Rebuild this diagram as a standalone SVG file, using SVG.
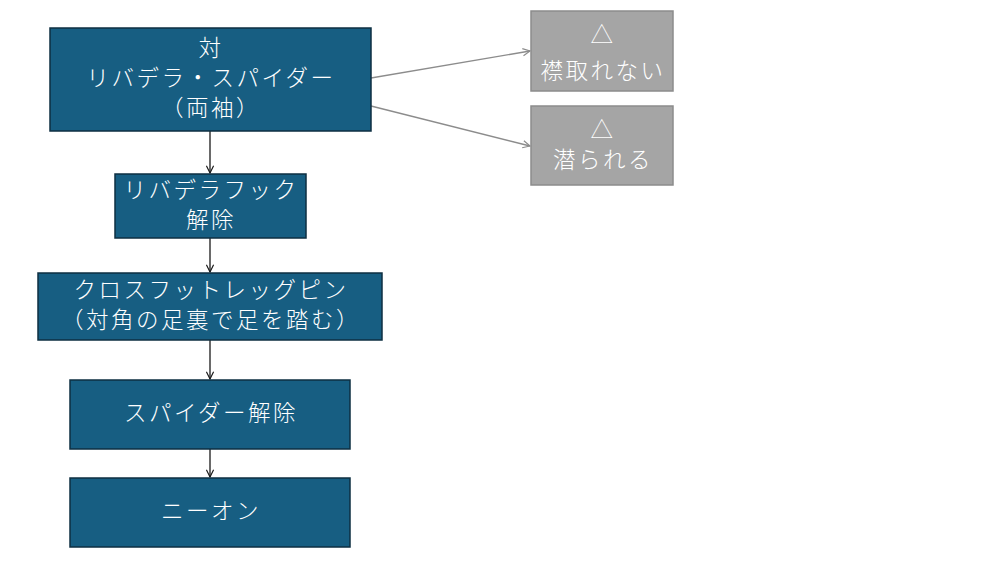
<svg xmlns="http://www.w3.org/2000/svg" width="1000" height="563" viewBox="0 0 1000 563">
<style>
.n{fill:#175E82;stroke:#0E2F42;stroke-width:1.5}
.g{fill:#A5A5A5;stroke:#8C8C8C;stroke-width:1.5}
text{font-family:"Noto Sans CJK JP","Noto Sans",sans-serif;font-weight:300;font-size:22.5px;fill:#FFFFFF;text-anchor:middle;dominant-baseline:central;letter-spacing:2.5px}
.c{stroke:#1A1A1A;stroke-width:1.3;fill:none}
.cg{stroke:#8C8C8C;stroke-width:1.3;fill:none}
</style>
<defs>
<marker id="a" viewBox="0 0 10 10" refX="9" refY="5" markerWidth="9" markerHeight="9" markerUnits="userSpaceOnUse" orient="auto"><path d="M1,1 L9,5 L1,9" fill="none" stroke="#1A1A1A" stroke-width="1.3"/></marker>
<marker id="ag" viewBox="0 0 10 10" refX="9" refY="5" markerWidth="9" markerHeight="9" markerUnits="userSpaceOnUse" orient="auto"><path d="M1,1 L9,5 L1,9" fill="none" stroke="#8C8C8C" stroke-width="1.3"/></marker>
</defs>
<rect width="1000" height="563" fill="#FFFFFF"/>
<g id="connectors">
<line class="c" x1="210" y1="131" x2="210" y2="173" marker-end="url(#a)"/>
<line class="c" x1="210" y1="238" x2="210" y2="272" marker-end="url(#a)"/>
<line class="c" x1="210" y1="340" x2="210" y2="379" marker-end="url(#a)"/>
<line class="c" x1="210" y1="449" x2="210" y2="477" marker-end="url(#a)"/>
<line class="cg" x1="371" y1="78" x2="530" y2="51" marker-end="url(#ag)"/>
<line class="cg" x1="371" y1="106" x2="530" y2="146" marker-end="url(#ag)"/>
</g>
<g id="node1">
<rect class="n" x="50" y="28" width="321" height="103"/>
<text x="211" y="46">対</text>
<text x="211" y="76">リバデラ・スパイダー</text>
<text x="211" y="106">（両袖）</text>
</g>
<g id="node2">
<rect class="n" x="115" y="174" width="191" height="64"/>
<text x="211" y="188">リバデラフック</text>
<text x="211" y="218">解除</text>
</g>
<g id="node3">
<rect class="n" x="38" y="273" width="344" height="67"/>
<text x="211" y="288">クロスフットレッグピン</text>
<text x="211" y="318">（対角の足裏で足を踏む）</text>
</g>
<g id="node4">
<rect class="n" x="70" y="380" width="280" height="69"/>
<text x="211" y="411">スパイダー解除</text>
</g>
<g id="node5">
<rect class="n" x="70" y="478" width="280" height="69"/>
<text x="211" y="509">ニーオン</text>
</g>
<g id="node6">
<rect class="g" x="531" y="11" width="142" height="80"/>
<text x="603" y="33">△</text>
<text x="603" y="69">襟取れない</text>
</g>
<g id="node7">
<rect class="g" x="531" y="106" width="142" height="79"/>
<text x="603" y="128">△</text>
<text x="603" y="158">潜られる</text>
</g>
</svg>
